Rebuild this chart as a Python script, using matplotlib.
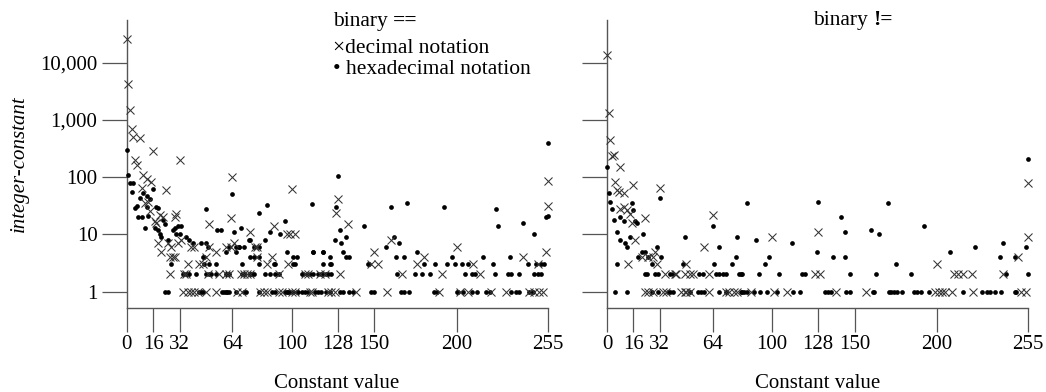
import matplotlib
matplotlib.use("Agg")
import matplotlib.pyplot as plt
from matplotlib.ticker import NullLocator

plt.rcParams['font.family'] = ['Liberation Serif', 'DejaVu Serif']

# ---- data: constant value -> number of occurrences ----
# binary ==, decimal notation
eq_dec_x = [0, 1, 2, 3, 4, 8, 16, 5, 6, 32, 64, 100, 10, 12, 15, 9, 24, 11, 13, 14,
            20, 22, 30, 29, 63, 17, 18, 50, 19, 21, 25, 27, 26, 28, 29, 26, 37, 35, 36, 31,
            33, 39, 41, 44, 46, 48, 60, 69, 73, 88, 92, 98,
            37, 39, 41, 48, 54, 67, 70, 81, 83, 85, 92, 94, 100, 102, 122, 124, 126, 34, 43,
            62, 71, 75, 108, 110, 117, 129, 79, 85, 78, 79, 75, 89, 97, 99, 65, 63, 128, 127,
            102, 134, 120, 148, 152, 150, 158, 160, 167, 176, 180, 191, 189, 200, 202, 207,
            210, 214, 221, 230, 240, 244, 249, 250, 252, 254, 255, 255, 111, 112, 139, 247,
            49, 56, 60, 54, 50]
eq_dec_n = [26000, 4200, 1500, 700, 500, 480, 280, 200, 165, 195, 100, 63, 108, 93, 83, 65, 60, 35, 37, 26,
            22, 20, 23, 20, 19, 17, 16, 15, 7, 5, 7, 6, 4, 4, 4, 2, 3, 2, 2, 7,
            8, 6, 6, 3, 3, 4, 2, 2, 2, 4, 2, 3,
            1, 1, 1, 1, 1, 1, 1, 1, 1, 1, 1, 1, 1, 1, 1, 1, 1, 1, 1,
            2, 2, 2, 2, 2, 2, 2, 4, 3, 6, 6, 11, 14, 10, 10, 7, 6, 41, 24,
            10, 15, 2, 3, 3, 5, 1, 8, 2, 3, 4, 2, 1, 6, 1, 1,
            3, 2, 1, 1, 4, 1, 3, 1, 1, 5, 31, 87, 1, 1, 1, 1,
            2, 2, 6, 5, 6]

# binary ==, hexadecimal notation
eq_hex_x = [0, 1, 2, 4, 3, 10, 16, 8, 14, 12, 6, 5, 12, 18, 19, 48, 7, 9, 13, 11,
            17, 19, 22, 23, 29, 33, 55, 57, 20, 21, 25, 27, 38, 23, 25, 46, 47, 47, 50, 54,
            48, 50, 45, 58, 59, 28, 31, 30, 32, 36, 38, 40, 48, 49, 60, 62, 66, 68,
            44, 45, 46, 61, 62, 71, 88, 90, 97, 99, 101, 103,
            34, 36, 37, 42, 51, 54, 60, 62, 70, 76, 77, 87, 90,
            64, 85, 80, 96, 112, 128, 127, 69, 65, 93, 87, 84, 74, 75, 66, 68, 71, 77, 80,
            75, 77, 80, 97, 101, 113, 119, 70, 80, 89, 90, 101, 119, 61, 71, 75, 84, 92,
            106, 107, 113, 118, 122,
            60, 66, 72, 80, 96, 98, 104, 106, 108, 110, 114, 116, 118, 129, 121, 123, 131,
            135, 137,
            255, 254, 255, 253, 248, 251, 247, 249, 251, 247, 240, 243, 231, 233, 238, 232,
            224, 225, 222, 223, 216, 203, 207, 199, 194, 187, 197, 192, 205, 209, 211,
            186, 188, 200, 201, 204, 209, 212, 218, 220, 176, 180, 170, 160, 162, 165, 163,
            168, 157, 175, 179, 184, 164, 148, 150, 166, 168, 171, 144, 146, 147, 131, 133,
            135, 123, 124, 129, 130, 133, 126, 113, 119, 123, 103, 102, 109, 111, 116, 119,
            121, 124, 233, 236, 238, 244, 246]
eq_hex_n = [300, 110, 78, 78, 56, 53, 63, 44, 41, 46, 31, 29, 30, 30, 29, 28, 20, 20, 21, 13,
            13, 12, 18, 15, 13, 14, 12, 12, 10, 9, 8, 3, 2, 1, 1, 4, 4, 3, 3, 3,
            2, 2, 7, 1, 1, 12, 14, 10, 10, 9, 8, 7, 7, 6, 5, 6, 5, 6,
            1, 1, 1, 1, 1, 1, 1, 1, 1, 1, 1, 1,
            2, 2, 2, 2, 2, 2, 2, 2, 2, 2, 2, 2, 2,
            50, 32, 24, 17, 34, 105, 30, 13, 11, 10, 11, 8, 8, 8, 6, 6, 6, 6, 6,
            4, 4, 4, 5, 4, 5, 5, 3, 3, 3, 3, 3, 3, 2, 2, 2, 2, 2,
            2, 2, 2, 2, 2,
            1, 1, 1, 1, 1, 1, 1, 1, 1, 1, 1, 1, 1, 1, 1, 1, 1,
            1, 1,
            390, 20, 21, 3, 3, 3, 2, 2, 2, 10, 16, 3, 2, 2, 2, 4,
            28, 14, 3, 2, 4, 3, 3, 3, 3, 3, 4, 30, 2, 2, 2,
            1, 1, 1, 1, 1, 1, 1, 1, 1, 5, 3, 35, 30, 9, 7, 4,
            4, 6, 2, 2, 2, 2, 1, 1, 1, 1, 1, 14, 3, 3, 5, 4,
            4, 4, 3, 12, 7, 9, 8, 5, 5, 3, 4, 3, 2, 2, 2, 2,
            2, 2, 1, 1, 1, 1, 1]

# binary !=, decimal notation
ne_dec_x = [0, 1, 2, 3, 4, 8, 5, 6, 7, 10, 16, 32, 8, 10, 12, 14, 15, 23, 17, 13,
            21, 25, 29, 28, 30, 35, 41, 42, 47, 50, 52, 62, 48, 59, 64,
            23, 25, 28, 34, 36, 45, 47, 48, 50, 62, 72, 74,
            77, 79, 87, 101, 109, 139, 157, 100, 126, 129, 128, 199, 201, 203, 205, 209,
            222, 251, 254, 255, 255, 249, 200, 210, 213, 216, 221, 240]
ne_dec_n = [13500, 1300, 445, 230, 245, 150, 83, 60, 56, 53, 73, 65, 28, 30, 27, 23, 16, 19, 8, 3,
            4, 4, 5, 4, 3, 2, 2, 2, 2, 2, 2, 2, 3, 6, 22,
            1, 1, 1, 1, 1, 1, 1, 1, 1, 1, 1, 1,
            1, 1, 1, 1, 1, 1, 1, 9, 2, 2, 11, 1, 1, 1, 1, 1,
            1, 1, 1, 78, 9, 4, 3, 2, 2, 2, 2, 2]

# binary !=, hexadecimal notation
ne_hex_x = [0, 1, 2, 3, 4, 6, 6, 5, 12, 8, 10, 15, 16, 17, 18, 32, 8, 11, 12, 14,
            22, 19, 21, 23, 25, 30, 33, 27, 23, 24, 29, 31, 38, 40, 56, 58, 66, 68, 70, 72,
            80, 82, 46, 47, 64, 68, 65, 76, 79, 78,
            27, 31, 37, 38, 40, 50, 55, 57, 59, 68, 72, 82,
            85, 81, 90, 98, 96, 92, 104, 112, 118, 120, 128, 127, 137, 144, 142, 144, 147,
            163, 160, 165, 170,
            81, 83, 85, 89, 93, 97, 103, 113, 117, 132, 134, 136, 145, 147, 161, 171,
            255, 254, 255, 247, 238, 240, 223, 208, 242, 184, 175, 192,
            162, 172, 174, 176, 179, 186, 188, 190, 195, 216, 227, 230, 232, 235, 239, 247, 248]
ne_hex_n = [150, 52, 37, 28, 18, 11, 3, 1, 1, 20, 17, 35, 27, 17, 16, 44, 8, 7, 6, 9,
            10, 4, 5, 5, 4, 6, 4, 3, 2, 2, 2, 2, 2, 2, 2, 2, 2, 2, 2, 2,
            2, 2, 3, 9, 14, 6, 3, 3, 9, 4,
            1, 1, 1, 1, 1, 1, 1, 1, 1, 1, 1, 1,
            35, 2, 8, 4, 3, 2, 2, 7, 2, 2, 37, 5, 4, 4, 20, 11, 2,
            2, 12, 10, 35,
            1, 1, 1, 1, 1, 1, 1, 1, 1, 1, 1, 1, 1, 1, 1, 1,
            205, 6, 2, 4, 4, 7, 6, 5, 2, 2, 3, 14,
            1, 1, 1, 1, 1, 1, 1, 1, 1, 1, 1, 1, 1, 1, 1, 1, 1]

x_ticks = [0, 16, 32, 64, 100, 128, 150, 200, 255]
y_ticks = [1, 10, 100, 1000, 10000]
y_tick_labels = ['1', '10', '100', '1,000', '10,000']

W, H = 1046, 392
fig = plt.figure(figsize=(W / 100, H / 100), dpi=100)

ax_l = fig.add_axes([126.7 / W, 1 - 307.7 / H, 420.8 / W, 287.7 / H])
ax_r = fig.add_axes([607.0 / W, 1 - 307.7 / H, 420.8 / W, 287.7 / H])

axis_col = '#555555'
for ax, dx, dn, hx, hn in [(ax_l, eq_dec_x, eq_dec_n, eq_hex_x, eq_hex_n),
                           (ax_r, ne_dec_x, ne_dec_n, ne_hex_x, ne_hex_n)]:
    ax.plot(hx, hn, linestyle='none', marker='o', ms=3.4, mew=0,
            color='black', clip_on=False, zorder=3)
    ax.plot(dx, dn, linestyle='none', marker='x', ms=6.0, mew=0.75,
            color='#333333', clip_on=False, zorder=4)
    ax.set_yscale('log')
    ax.set_xlim(0, 255)
    ax.set_ylim(0.526, 55200)
    ax.set_xticks(x_ticks)
    ax.set_yticks(y_ticks)
    ax.yaxis.set_minor_locator(NullLocator())
    for side in ['top', 'right']:
        ax.spines[side].set_visible(False)
    for side in ['left', 'bottom']:
        ax.spines[side].set_color(axis_col)
        ax.spines[side].set_linewidth(1.0)
    ax.tick_params(axis='x', length=17.5, width=0.9, pad=2, labelsize=15, color=axis_col)
    ax.tick_params(axis='y', length=18, width=0.9, pad=3, labelsize=15, color=axis_col)
    ax.set_xlabel('Constant value', fontsize=15)
    ax.xaxis.set_label_coords(0.5, -0.232)
    ax.patch.set_alpha(0)

ax_l.set_yticklabels(y_tick_labels)
ax_r.set_yticklabels([])
ax_l.set_ylabel('integer-constant', fontsize=15, style='italic')
ax_l.yaxis.set_label_coords(-0.232, 0.5)

# panel titles with bold operators, and the legend lines
def title(x_px, base_px, op):
    t = fig.text(x_px / W, 1 - base_px / H, 'binary ', fontsize=15.5, va='baseline')
    fig.canvas.draw()
    bb = t.get_window_extent()
    fig.text(bb.x1 / W, 1 - base_px / H, op, fontsize=15.5, va='baseline',
             fontweight='bold')

title(333, 26, '==')
title(813, 25, '!=')
fig.text(333 / W, 1 - 53 / H, '\u00d7decimal notation', fontsize=15.5, va='baseline')
fig.text(333 / W, 1 - 74 / H, '\u2022 hexadecimal notation', fontsize=15.5, va='baseline')

fig.savefig('out.png', dpi=100)
